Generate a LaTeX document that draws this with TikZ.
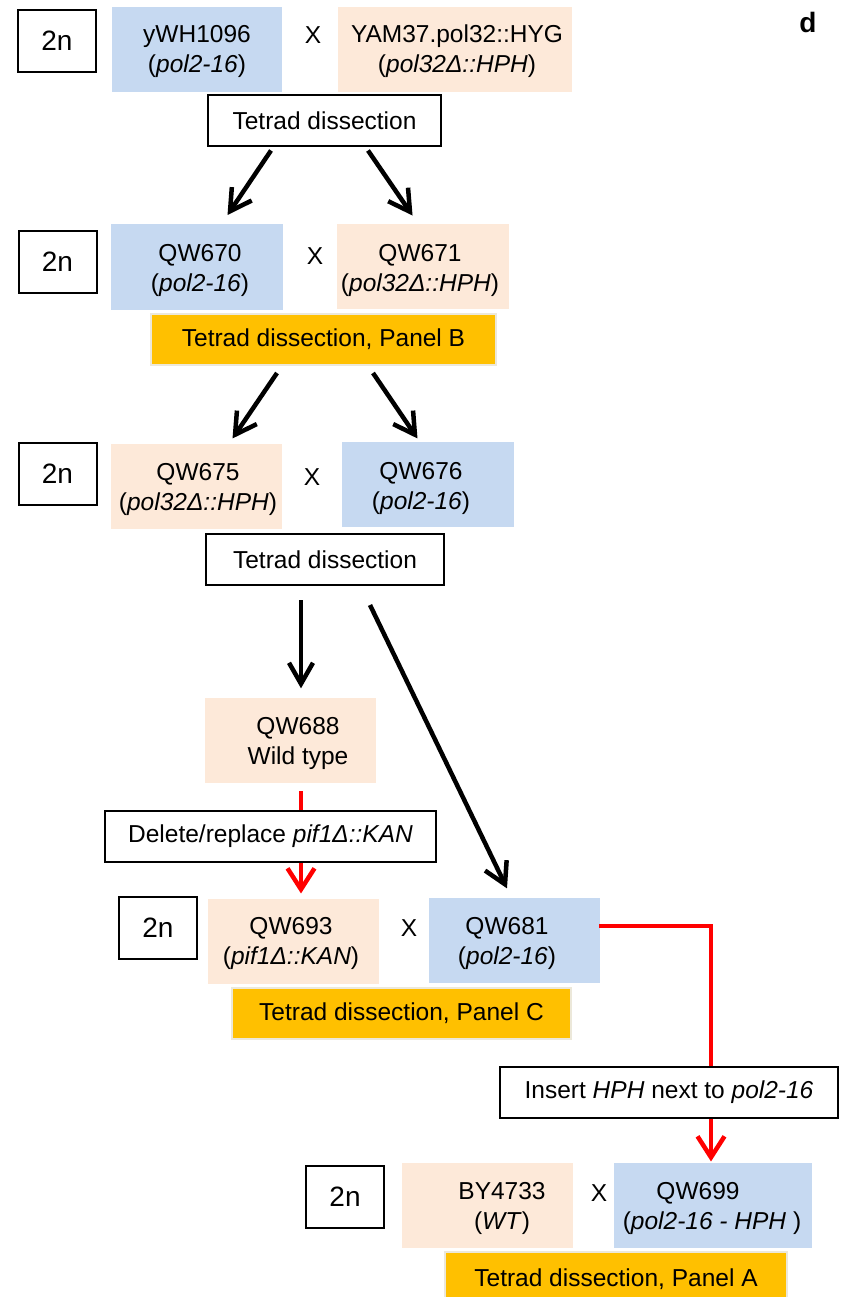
\documentclass[tikz,border=0pt]{standalone}
\usepackage{fontspec}
\setmainfont{Liberation Sans}
\usetikzlibrary{decorations.markings}
\definecolor{cblue}{RGB}{198,217,241}
\definecolor{cpeach}{RGB}{253,233,217}
\definecolor{cgold}{RGB}{255,192,0}
\definecolor{cedge}{RGB}{236,232,218}
\definecolor{cred}{RGB}{255,0,0}
\tikzset{
  txt/.style={font=\fontsize{24.5}{30}\selectfont, align=center, inner sep=0pt},
  twon/.style={draw, line width=2pt, minimum width=78pt, minimum height=62pt, inner sep=0pt, font=\fontsize{28}{32}\selectfont},
  bluebox/.style={fill=cblue, minimum height=85pt, inner sep=0pt},
  peachbox/.style={fill=cpeach, minimum height=85pt, inner sep=0pt},
  procbox/.style={draw, fill=white, line width=2pt, minimum height=51pt, inner sep=0pt, font=\fontsize{24.5}{30}\selectfont},
  goldbox/.style={fill=cgold, draw=cedge, line width=2pt, minimum height=51pt, inner sep=0pt, font=\fontsize{24.5}{30}\selectfont},
  vtip/.style 2 args={postaction={decorate}, decoration={markings,
      mark=at position 1 with {\draw[draw=#1, line width=4.5pt, line join=miter, line cap=butt] (-21pt,#2) -- (0pt,0pt) -- (-21pt,-#2);}}},
  blk/.style={line width=4.5pt, vtip={black}{12pt}},
  redl/.style={draw=cred, line width=4.5pt},
  reda/.style={redl, vtip={cred}{13.5pt}}
}
\begin{document}
\begin{tikzpicture}[x=1pt,y=-1pt]
\useasboundingbox (0,0) rectangle (850,1297);
% Row 1
\node[twon] (n1) at (57,41) {2n};
\node[bluebox, minimum width=170pt] (b1) at (197,49.5) {};
\node[txt] (b1t) at (197,51) {yWH1096\\(\textit{pol2-16})};
\node[txt] (x1) at (313,35) {X};
\node[peachbox, minimum width=234pt] (p1) at (455,49.5) {};
\node[txt] (p1t) at (457,51) {YAM37.pol32::HYG\\(\textit{pol32Δ::HPH})};
\node[procbox, minimum width=233pt] (td1) at (324.5,121) {Tetrad dissection};
\node[font=\bfseries\fontsize{28}{32}\selectfont, inner sep=0pt] (d) at (808,22) {d};
% Row 2
\node[twon] (n2) at (57.5,262) {2n};
\node[bluebox, minimum width=172pt] (b2) at (197,267) {};
\node[txt] (b2t) at (200,270) {QW670\\(\textit{pol2-16})};
\node[txt] (x2) at (315,256) {X};
\node[peachbox, minimum width=172pt] (p2) at (423,266.5) {};
\node[txt] (p2t) at (420,270) {QW671\\(\textit{pol32Δ::HPH})};
\node[goldbox, minimum width=345pt] (g2) at (323.5,339.5) {Tetrad dissection, Panel B};
% Row 3
\node[twon] (n3) at (57.5,473.5) {2n};
\node[peachbox, minimum width=171pt] (p3) at (196.5,486.5) {};
\node[txt] (p3t) at (198,489) {QW675\\(\textit{pol32Δ::HPH})};
\node[txt] (x3) at (312,477) {X};
\node[bluebox, minimum width=172pt] (b3) at (428,484.5) {};
\node[txt] (b3t) at (421,488) {QW676\\(\textit{pol2-16})};
\node[procbox, minimum width=238pt] (td3) at (325,559.5) {Tetrad dissection};
% Row 4
\node[peachbox, minimum width=171pt] (p4) at (290.5,740.5) {};
\node[txt] (p4t) at (298,743) {QW688\\Wild type};
% Row 5
\node[twon] (n5) at (158,927.5) {2n};
\node[peachbox, minimum width=171pt] (p5) at (293.5,941) {};
\node[txt] (p5t) at (291,943) {QW693\\(\textit{pif1Δ::KAN})};
\node[txt] (x5) at (409,928) {X};
\node[bluebox, minimum width=171pt] (b5) at (514.5,940.5) {};
\node[txt] (b5t) at (507,943) {QW681\\(\textit{pol2-16})};
\node[goldbox, minimum width=339pt] (g5) at (401.5,1013) {Tetrad dissection, Panel C};
% Row 6
\node[twon] (n6) at (345,1196.5) {2n};
\node[peachbox, minimum width=171pt] (p6) at (487.5,1205) {};
\node[txt] (p6t) at (502,1208) {BY4733\\(\textit{WT})};
\node[txt] (x6) at (599,1193) {X};
\node[bluebox, minimum width=198pt] (b6) at (713,1205) {};
\node[txt] (b6t) at (712,1208) {QW699\hspace*{28pt}\\(\textit{pol2-16 - HPH} )};
\node[goldbox, minimum width=342pt, minimum height=54pt] (g6) at (616,1279) {Tetrad dissection, Panel A};
% black arrows
\draw[blk] ([xshift=-53.5pt,yshift=-3pt]td1.south) -- ([xshift=33pt,yshift=13pt]b2.north);
\draw[blk] ([xshift=43.5pt,yshift=-3pt]td1.south) -- ([xshift=-13pt,yshift=12pt]p2.north);
\draw[blk] ([xshift=-46.5pt,yshift=-7pt]g2.south) -- ([xshift=38.5pt,yshift=9pt]p3.north);
\draw[blk] ([xshift=49.5pt,yshift=-7pt]g2.south) -- ([xshift=-13pt,yshift=7pt]b3.north);
\draw[blk] ([xshift=-24pt,yshift=-14pt]td3.south) -- ([xshift=10.5pt,yshift=14pt]p4.north);
\draw[blk] ([xshift=45pt,yshift=-19pt]td3.south) -- ([xshift=-9.5pt,yshift=13.5pt]b5.north);
% red connectors
\draw[reda] ([xshift=10.5pt,yshift=-8pt]p4.south) -- ([xshift=7.5pt,yshift=9pt]p5.north);
\draw[reda] ([xshift=-1pt,yshift=14.5pt]b5.east) -| ([xshift=-2pt,yshift=5pt]b6.north);
% process boxes drawn over red lines
\node[procbox, minimum width=331pt] (del) at (270.5,836.5) {Delete/replace \textit{pif1Δ::KAN}};
\node[procbox, minimum width=338pt] (ins) at (669,1092.5) {Insert \textit{HPH} next to \textit{pol2-16}};
\end{tikzpicture}
\end{document}
